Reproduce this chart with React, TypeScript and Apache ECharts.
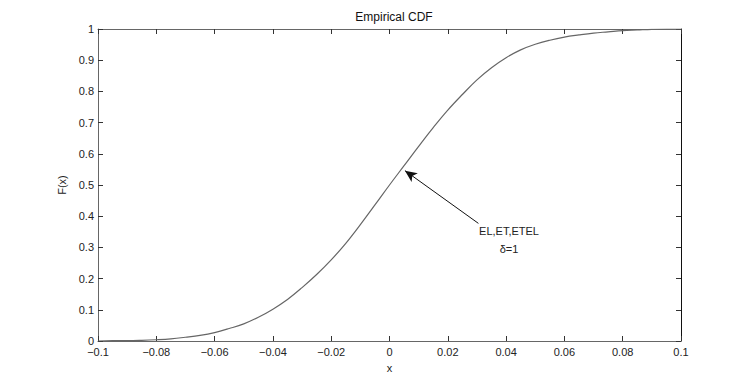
import React, { useEffect, useRef } from "react";
import * as echarts from "echarts";

const xValues = [
  -0.1, -0.095, -0.09, -0.085, -0.08, -0.075, -0.07, -0.065, -0.06, -0.055,
  -0.05, -0.045, -0.04, -0.035, -0.03, -0.025, -0.02, -0.015, -0.01, -0.005,
  0, 0.005, 0.01, 0.015, 0.02, 0.025, 0.03, 0.035, 0.04, 0.045,
  0.05, 0.055, 0.06, 0.065, 0.07, 0.075, 0.08, 0.085, 0.09, 0.095, 0.1,
];
const cdfValues = [
  0.0, 0.001, 0.001, 0.002, 0.004, 0.007, 0.012, 0.018, 0.027, 0.04,
  0.055, 0.076, 0.102, 0.133, 0.171, 0.213, 0.26, 0.313, 0.373, 0.436,
  0.5, 0.562, 0.624, 0.684, 0.74, 0.79, 0.837, 0.876, 0.908, 0.933,
  0.951, 0.964, 0.974, 0.981, 0.987, 0.991, 0.995, 0.997, 0.999, 1.0, 1.0,
];
const arrowStart = [0.0305, 0.377];
const arrowTip = [0.0053, 0.546];
const titleText = "Empirical CDF";
const annotationLines = ["EL,ET,ETEL", "δ=1"];

const FONT = "Liberation Sans, Arial, Helvetica, sans-serif";

export default function App() {
  const ref = useRef<HTMLDivElement>(null);
  useEffect(() => {
    if (!ref.current) return;
    const chart = echarts.init(ref.current, undefined, { renderer: "svg" });
    const data = xValues.map((x, i) => [x, cdfValues[i]]);
    const axisLine = { show: true, onZero: false, lineStyle: { color: "#666", width: 1 } };
    const tick = { show: true, inside: true, length: 5, lineStyle: { color: "#333" } };
    const labelStyle = { color: "#222", fontFamily: FONT, fontSize: 11 };
    chart.setOption({
      animation: false,
      backgroundColor: "#fff",
      textStyle: { fontFamily: FONT },
      title: {
        text: titleText,
        left: 389,
        top: 6,
        textAlign: "center",
        textStyle: { fontSize: 12, fontWeight: "normal", color: "#111", fontFamily: FONT },
      },
      grid: { left: 98, top: 29, width: 583, height: 312 },
      xAxis: [
        {
          type: "value",
          min: -0.1,
          max: 0.1,
          interval: 0.02,
          position: "bottom",
          name: "x",
          nameLocation: "middle",
          nameGap: 21,
          nameTextStyle: { ...labelStyle },
          axisLine,
          axisTick: tick,
          splitLine: { show: false },
          axisLabel: {
            ...labelStyle,
            margin: 5,
            formatter: (v: number) => (Math.abs(v) < 1e-9 ? "0" : String(+v.toFixed(2)).replace("-", "\u2212")),
          },
        },
        {
          type: "value",
          min: -0.1,
          max: 0.1,
          interval: 0.02,
          position: "top",
          axisLine,
          axisTick: tick,
          splitLine: { show: false },
          axisLabel: { show: false },
        },
      ],
      yAxis: [
        {
          type: "value",
          min: 0,
          max: 1,
          interval: 0.1,
          position: "left",
          name: "F(x)",
          nameLocation: "middle",
          nameGap: 28,
          nameRotate: 90,
          nameTextStyle: { ...labelStyle },
          axisLine,
          axisTick: tick,
          splitLine: { show: false },
          axisLabel: {
            ...labelStyle,
            margin: 4,
            formatter: (v: number) => String(+v.toFixed(1)),
          },
        },
        {
          type: "value",
          min: 0,
          max: 1,
          interval: 0.1,
          position: "right",
          axisLine: { show: true, onZero: false, lineStyle: { color: "#111", width: 1 } },
          axisTick: tick,
          splitLine: { show: false },
          axisLabel: { show: false },
        },
      ],
      series: [
        {
          type: "line",
          data,
          showSymbol: false,
          smooth: 0.4,
          lineStyle: { color: "#666", width: 1.2 },
          markLine: {
            silent: true,
            symbol: ["none", "arrow"],
            symbolSize: [8, 12],
            lineStyle: { color: "#111", width: 1, type: "solid" },
            label: { show: false },
            data: [[{ coord: arrowStart }, { coord: arrowTip }]],
          },
        },
      ],
      graphic: [
        {
          type: "text",
          x: 509,
          y: 231,
          style: {
            text: annotationLines[0],
            fill: "#222",
            font: `11px ${FONT}`,
            textAlign: "center",
            textVerticalAlign: "middle",
          },
        },
        {
          type: "text",
          x: 509,
          y: 249,
          style: {
            text: annotationLines[1],
            fill: "#222",
            font: `11px ${FONT}`,
            textAlign: "center",
            textVerticalAlign: "middle",
          },
        },
      ],
    });
    return () => chart.dispose();
  }, []);
  return (
    <div
      ref={ref}
      style={{ position: "fixed", left: 0, top: 0, width: 753, height: 385, background: "#fff" }}
    />
  );
}
